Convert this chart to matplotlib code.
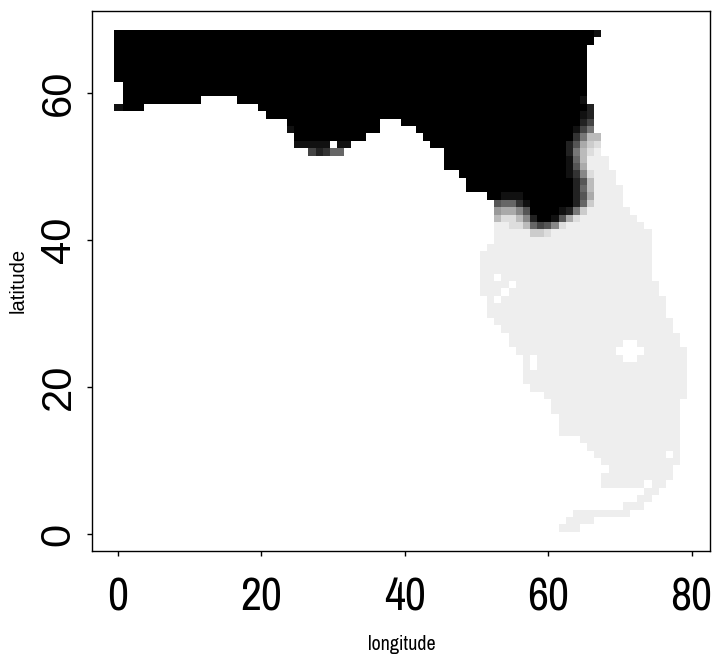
import numpy as np
import matplotlib
matplotlib.use('Agg')
import matplotlib.pyplot as plt

# land mask rows: latitude index, first and last longitude index
land_rows = [54, 53, 52, 51, 50, 49, 48, 47, 46, 45, 44, 43, 42, 41, 40, 39, 38, 37, 36, 35,
             34, 33, 32, 31, 30, 29, 28, 27, 26, 25, 24, 23, 22, 21, 20, 19, 18, 17, 16, 15,
             14, 13, 12, 11, 10, 9, 8, 7, 6, 5, 4, 3, 2, 1]
land_first = [66, 66, 66, 66, 66, 67, 67, 67, 67, 67, 53, 53, 53, 53, 53, 52, 51, 51, 51, 51,
              51, 51, 52, 52, 52, 53, 54, 55, 55, 56, 57, 57, 57, 57, 58, 60, 61, 61, 62, 62,
              62, 65, 66, 67, 68, 69, 68, 68, 74, 73, 71, 64, 63, 62]
land_last = [67, 67, 67, 68, 68, 69, 69, 70, 70, 70, 71, 72, 73, 74, 74, 74, 74, 74, 74, 74,
             75, 75, 76, 76, 76, 77, 77, 78, 78, 79, 79, 79, 79, 79, 79, 79, 78, 78, 78, 78,
             78, 78, 78, 78, 78, 77, 77, 76, 75, 74, 73, 71, 66, 64]

# white holes inside the land
hole_rows = [35, 34, 33, 32, 26, 26, 25, 25, 25, 25, 24, 24, 24, 23, 11, 7]
hole_cols = [53, 55, 54, 53, 71, 72, 70, 71, 72, 73, 71, 72, 58, 58, 77, 74]

# fully black runs
black_rows = [68, 67, 66, 65, 64, 63, 62, 61, 60, 59, 59, 58, 58, 57, 56, 56, 55, 55, 54, 54,
              53, 52, 51, 50, 49, 48, 47, 46, 45, 44, 43]
black_first = [0, 0, 0, 0, 0, 0, 0, 1, 1, 1, 17, 0, 20, 21, 24, 40, 25, 42, 25, 43,
               44, 46, 46, 46, 48, 49, 49, 52, 58, 58, 59]
black_last = [66, 66, 65, 65, 65, 65, 65, 65, 65, 11, 65, 3, 65, 65, 36, 65, 36, 63, 34, 63,
              62, 62, 62, 62, 62, 63, 63, 63, 63, 61, 60]

# grey transition cells: latitude index -> (longitude index, grey level)
shade_cells = {
    68: [(67, 0x11)],
    59: [(65, 0x11)],
    58: [(0, 0x11), (66, 0x22)],
    57: [(65, 0x11), (66, 0x22)],
    56: [(65, 0x22), (66, 0x44)],
    55: [(24, 0x11), (64, 0x11), (65, 0x44), (66, 0x77)],
    54: [(64, 0x33), (65, 0x77), (66, 0xbb), (67, 0xbb)],
    53: [(25, 0x11), (26, 0x11), (27, 0x11), (28, 0x11), (29, 0x11), (31, 0x11), (32, 0x11),
         (63, 0x22), (64, 0x55), (65, 0xaa), (66, 0xcc), (67, 0xdd)],
    52: [(27, 0x44), (28, 0x22), (29, 0x33), (30, 0x66), (31, 0x66),
         (63, 0x22), (64, 0x77), (65, 0xbb), (66, 0xdd)],
    51: [(63, 0x11), (64, 0x66), (65, 0xbb)],
    50: [(63, 0x11), (64, 0x55), (65, 0xaa)],
    49: [(63, 0x11), (64, 0x33), (65, 0x88), (66, 0xdd)],
    48: [(64, 0x22), (65, 0x55), (66, 0xbb)],
    47: [(64, 0x22), (65, 0x66), (66, 0xbb)],
    46: [(54, 0x11), (55, 0x11), (56, 0x11), (64, 0x22), (65, 0x55), (66, 0xaa)],
    45: [(53, 0x55), (54, 0x66), (55, 0x66), (56, 0x33), (57, 0x11),
         (64, 0x22), (65, 0x66), (66, 0xcc)],
    44: [(53, 0x99), (54, 0xaa), (55, 0xaa), (56, 0x88), (57, 0x55),
         (62, 0x11), (63, 0x22), (64, 0x77), (65, 0xcc)],
    43: [(53, 0xbb), (54, 0xdd), (55, 0xdd), (56, 0xbb), (57, 0x88), (58, 0x22),
         (61, 0x11), (62, 0x55), (63, 0xaa), (64, 0xdd)],
    42: [(55, 0xdd), (56, 0xdd), (57, 0xbb), (58, 0x66), (59, 0x44), (60, 0x55),
         (61, 0x88), (62, 0xdd)],
    41: [(58, 0xcc), (59, 0xcc), (60, 0xdd)],
}

land_level = 0xee
x_ticks = [0, 20, 40, 60, 80]
y_ticks = [0, 20, 40, 60]

grid = np.full((69, 81), 255)
for row, first, last in zip(land_rows, land_first, land_last):
    grid[row, first:last + 1] = land_level
for row, col in zip(hole_rows, hole_cols):
    grid[row, col] = 255
for row, first, last in zip(black_rows, black_first, black_last):
    grid[row, first:last + 1] = 0
for row, cells in shade_cells.items():
    for col, level in cells:
        grid[row, col] = level

# cell edges run slightly tighter than the axis units
lon_edges = -0.36 + 0.997 * np.arange(82)
lon_edges[0] = -0.56
lat_edges = -0.71 + 1.004 * np.arange(70)

W, H = 715, 655
fig = plt.figure(figsize=(W / 100, H / 100), dpi=100)
ax = fig.add_axes([91.7 / W, 1 - 551.3 / H, (710 - 91.7) / W, (551.3 - 10.7) / H])
ax.pcolormesh(lon_edges, lat_edges, grid, cmap='gray', vmin=0, vmax=255,
              shading='flat', antialiased=False, linewidth=0)
ax.set_xlim(-3.67, 82.57)
ax.set_ylim(-2.35, 71.2)

for side in ax.spines.values():
    side.set_linewidth(1.0)

narrow = ['Archivo Narrow', 'Liberation Sans']
ax.set_xticks(x_ticks)
ax.set_xticklabels([str(t) for t in x_ticks], family=narrow, fontsize=33)
ax.set_yticks(y_ticks)
ax.set_yticklabels([str(t) for t in y_ticks], family='Liberation Sans', fontsize=30,
                   rotation=90, va='center')
ax.tick_params(axis='x', length=3.8, width=1.0, pad=14)
ax.tick_params(axis='y', length=3.8, width=1.0, pad=5.5)

fig.text(402 / W, 1 - 645 / H, 'longitude', family=narrow, fontsize=14.4,
         ha='center', va='center')
fig.text(18 / W, 1 - 280 / H, 'latitude', family='Liberation Sans', fontsize=14.5,
         rotation=90, ha='center', va='center')

fig.savefig('out.png', dpi=100)
